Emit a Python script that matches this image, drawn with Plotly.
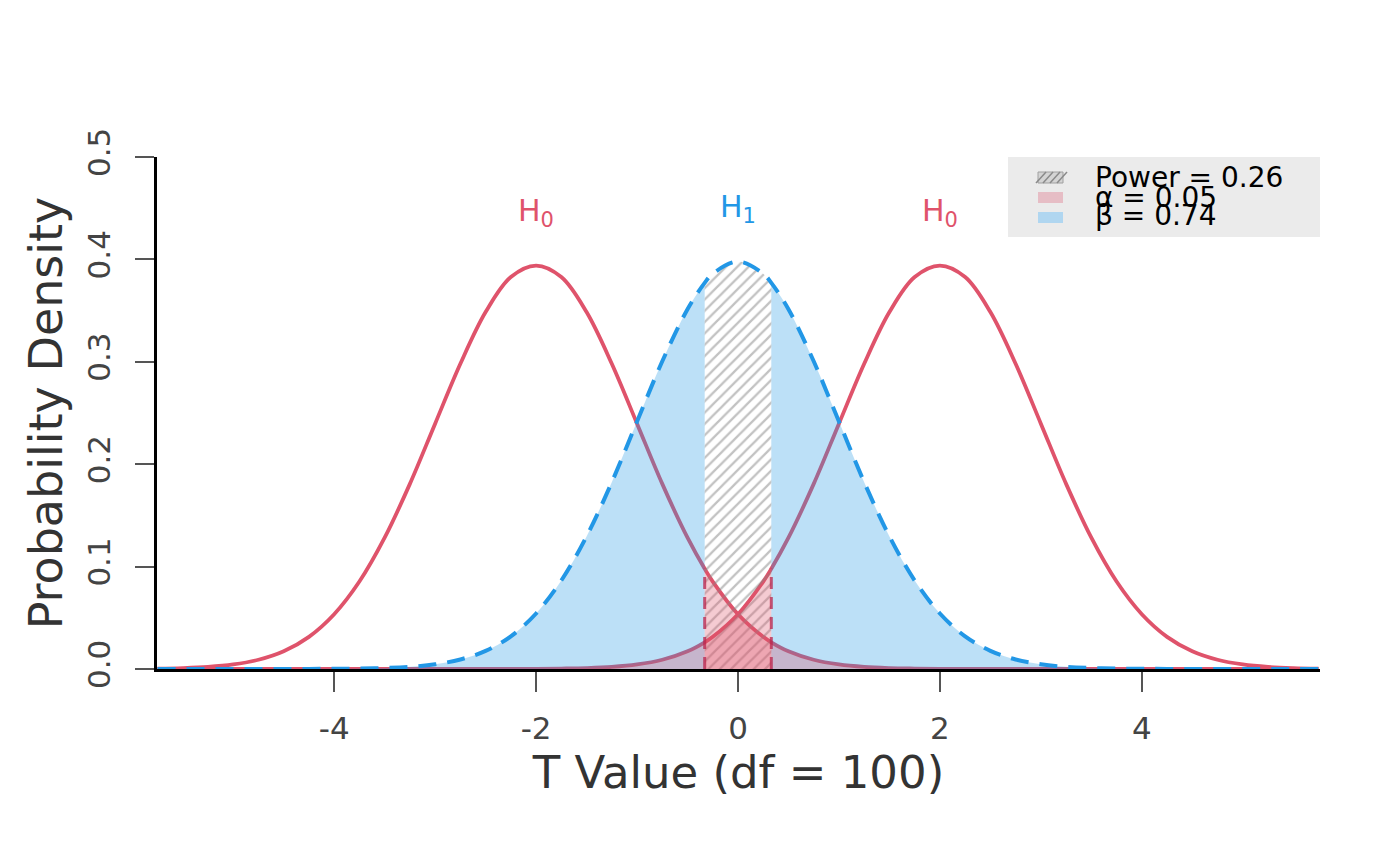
import plotly.graph_objects as go

# t values on the x axis (df = 100) and the densities
x_grid = [-5.75, -5.5, -5.25, -5.0, -4.75, -4.5, -4.25, -4.0, -3.75, -3.5,
          -3.25, -3.0, -2.75, -2.5, -2.25, -2.0, -1.75, -1.5, -1.25, -1.0,
          -0.75, -0.5, -0.33, -0.25, 0.0, 0.25, 0.33, 0.5, 0.75, 1.0,
          1.25, 1.5, 1.75, 2.0, 2.25, 2.5, 2.75, 3.0, 3.25, 3.5,
          3.75, 4.0, 4.25, 4.5, 4.75, 5.0, 5.25, 5.5, 5.75]

h1_density = [0.0, 0.0, 0.0, 0.0, 0.0, 0.0, 0.0001, 0.0002, 0.0004, 0.0010,
              0.0021, 0.0046, 0.0093, 0.0177, 0.0319, 0.0542, 0.0864, 0.1295, 0.1824, 0.2416,
              0.3005, 0.3514, 0.3771, 0.3860, 0.3979, 0.3860, 0.3771, 0.3514, 0.3005, 0.2416,
              0.1824, 0.1295, 0.0864, 0.0542, 0.0319, 0.0177, 0.0093, 0.0046, 0.0021, 0.0010,
              0.0004, 0.0002, 0.0001, 0.0, 0.0, 0.0, 0.0, 0.0, 0.0]

h0_left_density = [0.0004, 0.0009, 0.0020, 0.0044, 0.0090, 0.0173, 0.0314, 0.0535, 0.0854, 0.1282,
                   0.1808, 0.2396, 0.2981, 0.3486, 0.3828, 0.3940, 0.3828, 0.3486, 0.2981, 0.2396,
                   0.1808, 0.1282, 0.0979, 0.0854, 0.0535, 0.0314, 0.0261, 0.0173, 0.0090, 0.0044,
                   0.0020, 0.0009, 0.0004, 0.0001, 0.0, 0.0, 0.0, 0.0, 0.0, 0.0,
                   0.0, 0.0, 0.0, 0.0, 0.0, 0.0, 0.0, 0.0, 0.0]

h0_right_density = [0.0, 0.0, 0.0, 0.0, 0.0, 0.0, 0.0, 0.0, 0.0, 0.0,
                    0.0, 0.0, 0.0, 0.0, 0.0, 0.0001, 0.0004, 0.0009, 0.0020, 0.0044,
                    0.0090, 0.0173, 0.0261, 0.0314, 0.0535, 0.0854, 0.0979, 0.1282, 0.1808, 0.2396,
                    0.2981, 0.3486, 0.3828, 0.3940, 0.3828, 0.3486, 0.2981, 0.2396, 0.1808, 0.1282,
                    0.0854, 0.0535, 0.0314, 0.0173, 0.0090, 0.0044, 0.0020, 0.0009, 0.0004]

crit_low = -0.33
crit_high = 0.33

x_ticks = [-4, -2, 0, 2, 4]
x_tick_labels = ["-4", "-2", "0", "2", "4"]
y_ticks = [0.0, 0.1, 0.2, 0.3, 0.4, 0.5]
y_tick_labels = ["0.0", "0.1", "0.2", "0.3", "0.4", "0.5"]

curve_labels = ["H<sub>0</sub>", "H<sub>1</sub>", "H<sub>0</sub>"]
curve_label_x = [-2, 0, 2]
curve_label_y = [0.446, 0.450, 0.446]

legend_labels = ["Power = 0.26", "\u03b1 = 0.05", "\u03b2 = 0.74"]

RED = "#DF536B"
BLUE = "#2297E6"
BETA_FILL = "rgba(34,151,230,0.30)"
ALPHA_FILL = "rgba(223,83,107,0.30)"
ALPHA_EDGE = "rgba(185,35,75,0.75)"
FONT = "DejaVu Sans"


def part(ys, lo, hi):
    xs_out, ys_out = [], []
    for xv, yv in zip(x_grid, ys):
        if lo <= xv <= hi:
            xs_out.append(xv)
            ys_out.append(yv)
    return xs_out, ys_out


def at(ys, xv):
    return ys[x_grid.index(xv)]


fig = go.Figure()

# H0 curves
for ys in (h0_left_density, h0_right_density):
    fig.add_trace(go.Scatter(x=x_grid, y=ys, mode="lines",
                             line=dict(color=RED, width=3.8, shape="spline")))

# beta area (H1 outside the equivalence band)
for lo, hi in ((-99, crit_low), (crit_high, 99)):
    bx, by = part(h1_density, lo, hi)
    fig.add_trace(go.Scatter(x=bx, y=by, mode="lines", fill="tozeroy",
                             fillcolor=BETA_FILL,
                             line=dict(width=0, color=BETA_FILL, shape="spline")))

# power area (hatched)
px_, py_ = part(h1_density, crit_low, crit_high)
fig.add_trace(go.Scatter(x=px_, y=py_, mode="lines", fill="tozeroy",
                         fillcolor="rgba(0,0,0,0)",
                         fillpattern=dict(shape="/", fgcolor="#858585", bgcolor="rgba(0,0,0,0)",
                                          size=8, solidity=0.28),
                         line=dict(width=0, color="rgba(0,0,0,0)", shape="spline")))

# alpha areas
for ys, lo, hi in ((h0_left_density, crit_low, 99), (h0_right_density, -99, crit_high)):
    ax_, ay_ = part(ys, lo, hi)
    fig.add_trace(go.Scatter(x=ax_, y=ay_, mode="lines", fill="tozeroy",
                             fillcolor=ALPHA_FILL,
                             line=dict(width=0, color=ALPHA_FILL, shape="spline")))

# dashed edges of the alpha areas
for ys, xv in ((h0_left_density, crit_low), (h0_right_density, crit_high)):
    fig.add_trace(go.Scatter(x=[xv, xv], y=[0, at(ys, xv)], mode="lines",
                             line=dict(color=ALPHA_EDGE, width=3, dash="12px,8px")))

# H1 curve
fig.add_trace(go.Scatter(x=x_grid, y=h1_density, mode="lines",
                         line=dict(color=BLUE, width=4, dash="18px,11px", shape="spline")))

# curve labels
for txt, xv, yv, col in zip(curve_labels, curve_label_x, curve_label_y, [RED, BLUE, RED]):
    fig.add_annotation(x=xv, y=yv, text=txt, showarrow=False,
                       font=dict(family=FONT, size=30, color=col))

# plot area in page pixels (the page adds an 8px body margin)
PAGE_PAD = 8
L, T, W, H = 157, 157, 1163, 512
FIG_W, FIG_H = 1400 - PAGE_PAD, 866 - PAGE_PAD


def fx(p):
    return (p - L) / W


def fy(p):
    return (T + H - p) / H


# legend drawn by hand
shapes = [dict(type="rect", xref="paper", yref="paper",
               x0=fx(1008), x1=fx(1320), y0=fy(237), y1=fy(157),
               fillcolor="#EBEBEB", line=dict(width=0), layer="below")]
# hatched swatch
shapes.append(dict(type="rect", xref="paper", yref="paper",
                   x0=fx(1038), x1=fx(1063), y0=fy(183), y1=fy(172),
                   fillcolor="#D4D4D4", line=dict(color="#A0A0A0", width=1)))
for k in range(4):
    shapes.append(dict(type="line", xref="paper", yref="paper",
                       x0=fx(1036 + 7 * k), x1=fx(1046 + 7 * k), y0=fy(183), y1=fy(172),
                       line=dict(color="#8a8a8a", width=1.5)))
shapes.append(dict(type="rect", xref="paper", yref="paper",
                   x0=fx(1038), x1=fx(1063), y0=fy(203), y1=fy(192),
                   fillcolor="#E6BDC5", line=dict(width=0)))
shapes.append(dict(type="rect", xref="paper", yref="paper",
                   x0=fx(1038), x1=fx(1063), y0=fy(223), y1=fy(212),
                   fillcolor="#B0D6F0", line=dict(width=0)))

for txt, yp in zip(legend_labels, [177, 197, 215]):
    fig.add_annotation(xref="paper", yref="paper", x=fx(1093), y=fy(yp),
                       xanchor="left", yanchor="middle", text=txt, showarrow=False,
                       font=dict(family=FONT, size=28, color="black"))

fig.update_layout(
    width=FIG_W, height=FIG_H,
    showlegend=False,
    plot_bgcolor="white", paper_bgcolor="white",
    margin=dict(l=L - PAGE_PAD, r=FIG_W - (L - PAGE_PAD) - W,
                t=T - PAGE_PAD, b=FIG_H - (T - PAGE_PAD) - H),
    font=dict(family=FONT, size=28, color="#444"),
    shapes=shapes,
    xaxis=dict(
        range=[-5.755, 5.765], tickvals=x_ticks, ticktext=x_tick_labels,
        ticks="outside", ticklen=20, tickwidth=2, tickcolor="#555",
        showline=True, linecolor="black", linewidth=2.5,
        showgrid=False, zeroline=False, ticklabelstandoff=10,
        tickfont=dict(size=31, color="#444"),
        title=dict(text="T Value (df = 100)", font=dict(size=45, color="#333"), standoff=4),
    ),
    yaxis=dict(
        range=[0, 0.5], tickvals=y_ticks, ticktext=y_tick_labels, tickangle=-90,
        ticks="outside", ticklen=19, tickwidth=2, tickcolor="#555",
        showline=True, linecolor="black", linewidth=2.5,
        showgrid=False, zeroline=False, ticklabelstandoff=13,
        tickfont=dict(size=31, color="#444"),
        title=dict(text="Probability Density", font=dict(size=46, color="#333"), standoff=4),
    ),
)

fig.write_html("out.html")
